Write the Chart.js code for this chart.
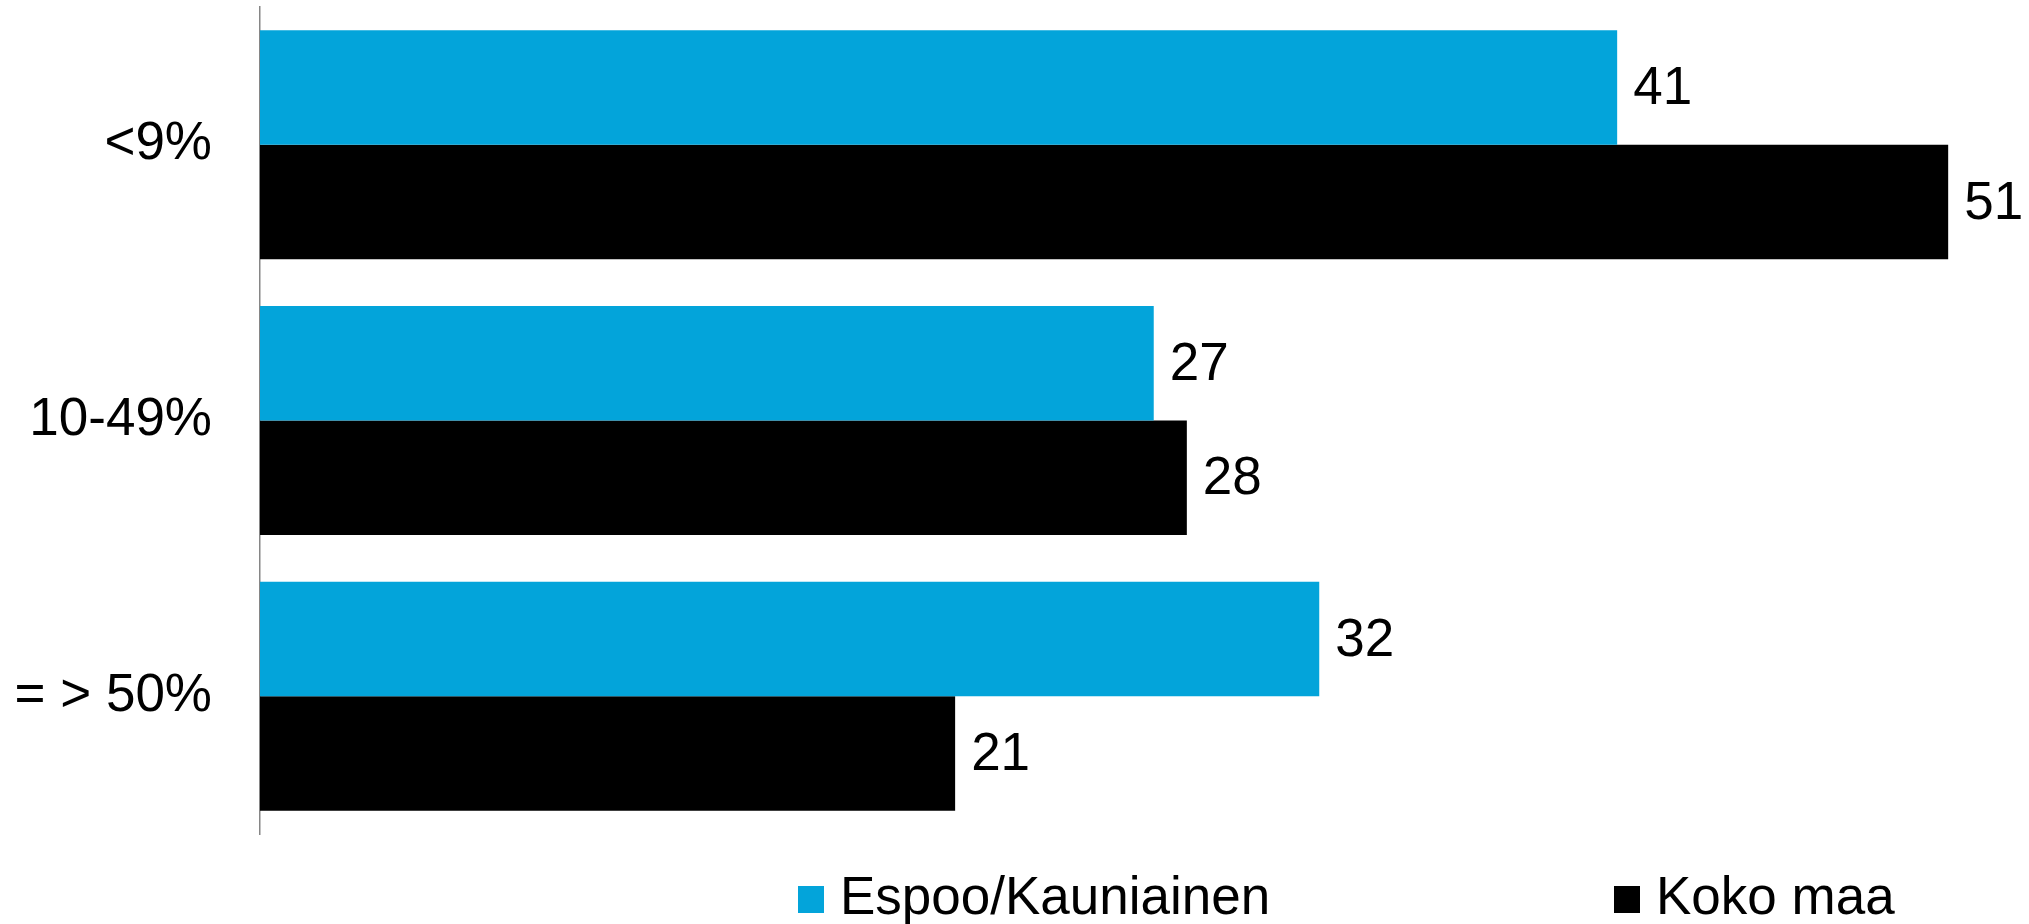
<!DOCTYPE html>
<html>
<head>
<meta charset="utf-8">
<script src="https://cdn.jsdelivr.net/npm/chart.js@4/dist/chart.umd.min.js"></script>
<style>
html,body{margin:0;padding:0;background:#fff;}
#wrap{width:2029px;height:924px;position:relative;}
</style>
</head>
<body>
<div id="wrap"><canvas id="c" width="2029" height="924"></canvas></div>
<script>
const categories = ["<9%", "10-49%", "= > 50%"];
const seriesNames = ["Espoo/Kauniainen", "Koko maa"];
const espooValues = [41, 27, 32];
const kokoMaaValues = [51, 28, 21];
const seriesColors = ["#03A4DA", "#000000"];

const FONT = "'Liberation Sans', Arial, sans-serif";

const valueLabels = {
  id: 'valueLabels',
  afterDatasetsDraw(chart) {
    const ctx = chart.ctx;
    ctx.save();
    ctx.font = "53px " + FONT;
    ctx.fillStyle = "#000";
    ctx.textAlign = "left";
    ctx.textBaseline = "middle";
    chart.data.datasets.forEach((ds, di) => {
      const meta = chart.getDatasetMeta(di);
      meta.data.forEach((bar, i) => {
        ctx.fillText(String(ds.data[i]), bar.x + 16, bar.y + 2);
      });
    });
    ctx.restore();
  }
};

const customLegend = {
  id: 'customLegend',
  afterDraw(chart) {
    const ctx = chart.ctx;
    ctx.save();
    ctx.font = "53px " + FONT;
    ctx.textBaseline = "middle";
    ctx.textAlign = "left";
    const xs = [798, 1614];
    chart.data.datasets.forEach((ds, di) => {
      const x = xs[di];
      ctx.fillStyle = ds.backgroundColor;
      ctx.fillRect(x, 886, 26, 27);
      ctx.fillStyle = "#000";
      ctx.fillText(ds.label, x + 42, 899);
    });
    ctx.restore();
  }
};

new Chart(document.getElementById('c'), {
  type: 'bar',
  data: {
    labels: categories,
    datasets: [
      { label: seriesNames[0], data: espooValues, backgroundColor: seriesColors[0], borderWidth: 0 },
      { label: seriesNames[1], data: kokoMaaValues, backgroundColor: seriesColors[1], borderWidth: 0 }
    ]
  },
  options: {
    indexAxis: 'y',
    responsive: false,
    animation: false,
    devicePixelRatio: 1,
    layout: { padding: { top: 7, bottom: 90, right: 8, left: 0 } },
    datasets: { bar: { barPercentage: 1.0, categoryPercentage: 0.831 } },
    plugins: { legend: { display: false }, tooltip: { enabled: false } },
    scales: {
      x: { display: false, min: 0, max: 53.2 },
      y: {
        afterFit(scale) { scale.width = 260; scale.paddingTop = 0; scale.paddingBottom = 0; },
        grid: { display: false, drawTicks: false },
        border: { display: true, color: '#868686', width: 1.5 },
        ticks: { color: '#000', font: { family: FONT, size: 53 }, padding: 48 }
      }
    }
  },
  plugins: [valueLabels, customLegend]
});
</script>
</body>
</html>
